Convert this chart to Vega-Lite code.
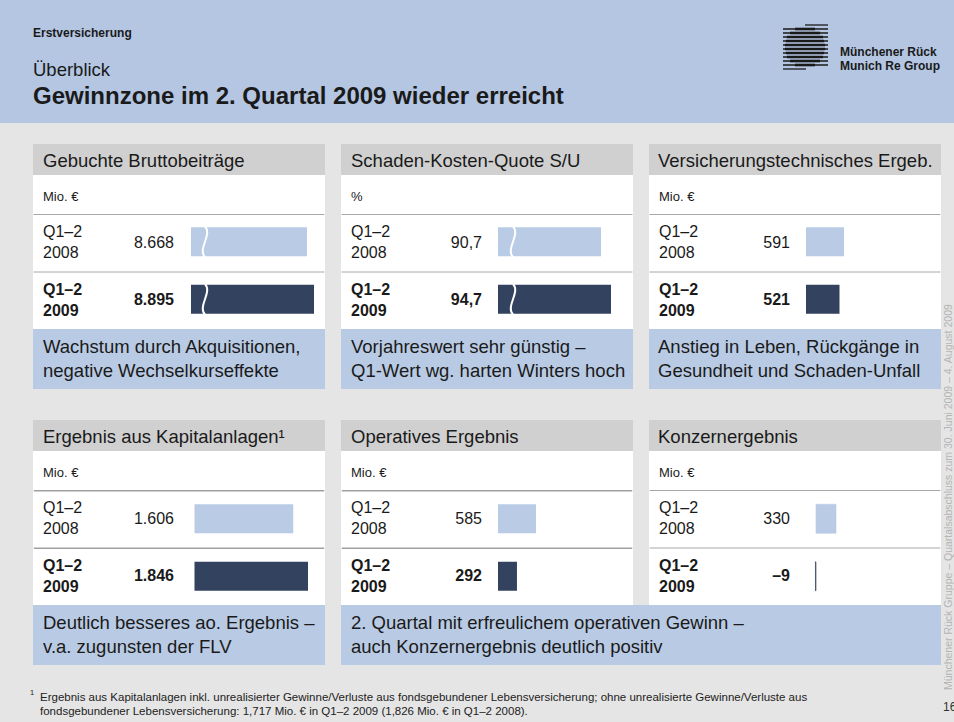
{
"$schema": "https://vega.github.io/schema/vega-lite/v6.json",
"background": "#e5e5e5",
"padding": 0,
"spacing": 0,
"config": {"view": {"stroke": null}, "font": "Liberation Sans", "axis": {"disable": true}, "legend": {"disable": true}},
"vconcat": [
{"hconcat": [
 {"width": 783, "height": 123, "view": {"fill": "#b4c6e2"},
  "layer": [
   {"data": {"values": [{"t": "Erstversicherung"}]}, "mark": {"type": "text", "align": "left", "baseline": "middle", "fontSize": 12, "fontWeight": "bold", "color": "#1a1a1a"}, "encoding": {"text": {"field": "t"}, "x": {"value": 33}, "y": {"value": 33}}},
   {"data": {"values": [{"t": "Überblick"}]}, "mark": {"type": "text", "align": "left", "baseline": "middle", "fontSize": 18.5, "color": "#1a1a1a"}, "encoding": {"text": {"field": "t"}, "x": {"value": 33}, "y": {"value": 70}}},
   {"data": {"values": [{"t": "Gewinnzone im 2. Quartal 2009 wieder erreicht"}]}, "mark": {"type": "text", "align": "left", "baseline": "middle", "fontSize": 24, "fontWeight": "bold", "color": "#1a1a1a"}, "encoding": {"text": {"field": "t"}, "x": {"value": 33}, "y": {"value": 97}}}
  ]},
 {"width": 46, "height": 123, "view": {"fill": "#b4c6e2"},
  "layer": [
   {"data": {"values": [{"i": 0, "a": 22, "b": 45}, {"i": 1, "a": 0, "b": 45}, {"i": 2, "a": 0, "b": 45}, {"i": 3, "a": 0, "b": 45}, {"i": 4, "a": 0, "b": 45}, {"i": 5, "a": 0, "b": 45}, {"i": 6, "a": 0, "b": 45}, {"i": 7, "a": 0, "b": 45}, {"i": 8, "a": 0, "b": 45}, {"i": 9, "a": 0, "b": 45}, {"i": 10, "a": 0, "b": 45}, {"i": 11, "a": 0, "b": 23}]},
    "mark": {"type": "rule", "color": "#1a1a1a", "strokeWidth": 1.3},
    "encoding": {"x": {"field": "a", "type": "quantitative", "scale": {"domain": [0, 46], "nice": false}}, "x2": {"field": "b"}, "y": {"field": "i", "type": "quantitative", "scale": {"domain": [0, 11], "range": [25, 69], "nice": false}}}},
   {"data": {"values": [{"i": 1, "a": 12, "b": 32}, {"i": 2, "a": 7, "b": 37}, {"i": 3, "a": 4, "b": 40}, {"i": 4, "a": 3, "b": 41}, {"i": 5, "a": 2, "b": 42}, {"i": 6, "a": 2, "b": 42}, {"i": 7, "a": 3, "b": 41}, {"i": 8, "a": 4, "b": 40}, {"i": 9, "a": 7, "b": 37}, {"i": 10, "a": 12, "b": 32}]},
    "mark": {"type": "rule", "color": "#1a1a1a", "strokeWidth": 2.6},
    "encoding": {"x": {"field": "a", "type": "quantitative", "scale": {"domain": [0, 46], "nice": false}}, "x2": {"field": "b"}, "y": {"field": "i", "type": "quantitative", "scale": {"domain": [0, 11], "range": [25, 69], "nice": false}}}}
  ]},
 {"width": 125, "height": 123, "view": {"fill": "#b4c6e2"},
  "data": {"values": [{"t": "Münchener Rück\nMunich Re Group"}]},
  "mark": {"type": "text", "align": "left", "baseline": "middle", "fontSize": 12, "fontWeight": "bold", "lineBreak": "\n", "lineHeight": 14, "color": "#1a1a1a"},
  "encoding": {"text": {"field": "t"}, "x": {"value": 11}, "y": {"value": 52}}}
], "spacing": 0, "bounds": "flush"},
{"hconcat": [
 {"vconcat": [
  {"width": 10, "height": 21, "data": {"values": [{}]}, "mark": {"type": "point", "opacity": 0}, "encoding": {}},
  {"hconcat": [
   {"width": 17, "height": 10, "data": {"values": [{}]}, "mark": {"type": "point", "opacity": 0}, "encoding": {}},
   {"vconcat": [
    {"width": 292, "height": 31, "view": {"fill": "#d0d0d0"}, "data": {"values": [{"t": "Gebuchte Bruttobeiträge"}]}, "mark": {"type": "text", "align": "left", "baseline": "middle", "fontSize": 18.5, "color": "#1a1a1a"}, "encoding": {"text": {"field": "t"}, "x": {"value": 10}, "y": {"value": 17}}},
    {"width": 292, "height": 39, "view": {"fill": "#ffffff"}, "data": {"values": [{"t": "Mio. €"}]}, "mark": {"type": "text", "align": "left", "baseline": "middle", "fontSize": 13, "color": "#1a1a1a"}, "encoding": {"text": {"field": "t"}, "x": {"value": 10}, "y": {"value": 21.5}}},
    {"width": 292, "height": 115, "view": {"fill": "#ffffff"},
     "data": {"values": [{"row": "2008", "period": "Q1–2\n2008", "value": 8668, "label": "8.668"}, {"row": "2009", "period": "Q1–2\n2009", "value": 8895, "label": "8.895"}]},
     "encoding": {"y": {"field": "row", "type": "nominal", "scale": {"domain": ["2008", "2009"], "paddingInner": 0, "paddingOuter": 0}}},
     "layer": [
      {"mark": {"type": "rule", "color": "#a8a8a8", "strokeWidth": 1, "yOffset": 0.5}, "encoding": {"y": {"field": "row", "type": "nominal", "bandPosition": 0}, "x": {"value": 0.6}, "x2": {"value": 291.4}}},
      {"mark": {"type": "bar", "size": 29, "yOffset": -1}, "encoding": {"x": {"field": "value", "type": "quantitative", "scale": {"domain": [4900, 8895], "range": [158, 281], "nice": false, "zero": false}}, "x2": {"datum": 4900}, "color": {"field": "row", "type": "nominal", "scale": {"domain": ["2008", "2009"], "range": ["#b9cbe5", "#33425f"]}}}},
      {"mark": {"type": "point", "shape": "M0,-1C0.5,-0.4 -0.5,0.4 0,1", "size": 961, "filled": false, "color": "#ffffff", "strokeWidth": 2, "opacity": 1, "yOffset": -1}, "encoding": {"x": {"datum": 5354}}},
      {"transform": [{"filter": "datum.row === '2008'"}], "mark": {"type": "text", "align": "left", "baseline": "middle", "fontSize": 16, "lineBreak": "\n", "lineHeight": 21, "dy": -10.5, "color": "#1a1a1a"}, "encoding": {"x": {"value": 10}, "text": {"field": "period"}}},
      {"transform": [{"filter": "datum.row === '2009'"}], "mark": {"type": "text", "align": "left", "baseline": "middle", "fontSize": 16, "fontWeight": "bold", "lineBreak": "\n", "lineHeight": 21, "dy": -10.5, "color": "#1a1a1a"}, "encoding": {"x": {"value": 10}, "text": {"field": "period"}}},
      {"transform": [{"filter": "datum.row === '2008'"}], "mark": {"type": "text", "align": "right", "baseline": "middle", "fontSize": 16, "color": "#1a1a1a"}, "encoding": {"x": {"value": 141}, "text": {"field": "label"}}},
      {"transform": [{"filter": "datum.row === '2009'"}], "mark": {"type": "text", "align": "right", "baseline": "middle", "fontSize": 16, "fontWeight": "bold", "color": "#1a1a1a"}, "encoding": {"x": {"value": 141}, "text": {"field": "label"}}}
     ]},
    {"width": 292, "height": 60, "view": {"fill": "#b9cbe4"}, "data": {"values": [{"t": "Wachstum durch Akquisitionen,\nnegative Wechselkurseffekte"}]}, "mark": {"type": "text", "align": "left", "baseline": "middle", "fontSize": 18.5, "lineBreak": "\n", "lineHeight": 24, "color": "#1a1a1a"}, "encoding": {"text": {"field": "t"}, "x": {"value": 10}, "y": {"value": 18}}}
   ], "spacing": 0, "bounds": "flush"},
   {"vconcat": [
    {"width": 292, "height": 31, "view": {"fill": "#d0d0d0"}, "data": {"values": [{"t": "Schaden-Kosten-Quote S/U"}]}, "mark": {"type": "text", "align": "left", "baseline": "middle", "fontSize": 18.5, "color": "#1a1a1a"}, "encoding": {"text": {"field": "t"}, "x": {"value": 10}, "y": {"value": 17}}},
    {"width": 292, "height": 39, "view": {"fill": "#ffffff"}, "data": {"values": [{"t": "%"}]}, "mark": {"type": "text", "align": "left", "baseline": "middle", "fontSize": 13, "color": "#1a1a1a"}, "encoding": {"text": {"field": "t"}, "x": {"value": 10}, "y": {"value": 21.5}}},
    {"width": 292, "height": 115, "view": {"fill": "#ffffff"},
     "data": {"values": [{"row": "2008", "period": "Q1–2\n2008", "value": 90.7, "label": "90,7"}, {"row": "2009", "period": "Q1–2\n2009", "value": 94.7, "label": "94,7"}]},
     "encoding": {"y": {"field": "row", "type": "nominal", "scale": {"domain": ["2008", "2009"], "paddingInner": 0, "paddingOuter": 0}}},
     "layer": [
      {"mark": {"type": "rule", "color": "#a8a8a8", "strokeWidth": 1, "yOffset": 0.5}, "encoding": {"y": {"field": "row", "type": "nominal", "bandPosition": 0}, "x": {"value": 0.6}, "x2": {"value": 291.4}}},
      {"mark": {"type": "bar", "size": 29, "yOffset": -1}, "encoding": {"x": {"field": "value", "type": "quantitative", "scale": {"domain": [49.5, 94.7], "range": [157, 270], "nice": false, "zero": false}}, "x2": {"datum": 49.5}, "color": {"field": "row", "type": "nominal", "scale": {"domain": ["2008", "2009"], "range": ["#b9cbe5", "#33425f"]}}}},
      {"mark": {"type": "point", "shape": "M0,-1C0.5,-0.4 -0.5,0.4 0,1", "size": 961, "filled": false, "color": "#ffffff", "strokeWidth": 2, "opacity": 1, "yOffset": -1}, "encoding": {"x": {"datum": 55.5}}},
      {"transform": [{"filter": "datum.row === '2008'"}], "mark": {"type": "text", "align": "left", "baseline": "middle", "fontSize": 16, "lineBreak": "\n", "lineHeight": 21, "dy": -10.5, "color": "#1a1a1a"}, "encoding": {"x": {"value": 10}, "text": {"field": "period"}}},
      {"transform": [{"filter": "datum.row === '2009'"}], "mark": {"type": "text", "align": "left", "baseline": "middle", "fontSize": 16, "fontWeight": "bold", "lineBreak": "\n", "lineHeight": 21, "dy": -10.5, "color": "#1a1a1a"}, "encoding": {"x": {"value": 10}, "text": {"field": "period"}}},
      {"transform": [{"filter": "datum.row === '2008'"}], "mark": {"type": "text", "align": "right", "baseline": "middle", "fontSize": 16, "color": "#1a1a1a"}, "encoding": {"x": {"value": 141}, "text": {"field": "label"}}},
      {"transform": [{"filter": "datum.row === '2009'"}], "mark": {"type": "text", "align": "right", "baseline": "middle", "fontSize": 16, "fontWeight": "bold", "color": "#1a1a1a"}, "encoding": {"x": {"value": 141}, "text": {"field": "label"}}}
     ]},
    {"width": 292, "height": 60, "view": {"fill": "#b9cbe4"}, "data": {"values": [{"t": "Vorjahreswert sehr günstig –\nQ1-Wert wg. harten Winters hoch"}]}, "mark": {"type": "text", "align": "left", "baseline": "middle", "fontSize": 18.5, "lineBreak": "\n", "lineHeight": 24, "color": "#1a1a1a"}, "encoding": {"text": {"field": "t"}, "x": {"value": 10}, "y": {"value": 18}}}
   ], "spacing": 0, "bounds": "flush"},
   {"vconcat": [
    {"width": 292, "height": 31, "view": {"fill": "#d0d0d0"}, "data": {"values": [{"t": "Versicherungstechnisches Ergeb."}]}, "mark": {"type": "text", "align": "left", "baseline": "middle", "fontSize": 18.5, "color": "#1a1a1a"}, "encoding": {"text": {"field": "t"}, "x": {"value": 9}, "y": {"value": 17}}},
    {"width": 292, "height": 39, "view": {"fill": "#ffffff"}, "data": {"values": [{"t": "Mio. €"}]}, "mark": {"type": "text", "align": "left", "baseline": "middle", "fontSize": 13, "color": "#1a1a1a"}, "encoding": {"text": {"field": "t"}, "x": {"value": 10}, "y": {"value": 21.5}}},
    {"width": 292, "height": 115, "view": {"fill": "#ffffff"},
     "data": {"values": [{"row": "2008", "period": "Q1–2\n2008", "value": 591, "label": "591"}, {"row": "2009", "period": "Q1–2\n2009", "value": 521, "label": "521"}]},
     "encoding": {"y": {"field": "row", "type": "nominal", "scale": {"domain": ["2008", "2009"], "paddingInner": 0, "paddingOuter": 0}}},
     "layer": [
      {"mark": {"type": "rule", "color": "#a8a8a8", "strokeWidth": 1, "yOffset": 0.5}, "encoding": {"y": {"field": "row", "type": "nominal", "bandPosition": 0}, "x": {"value": 0.6}, "x2": {"value": 291.4}}},
      {"mark": {"type": "bar", "size": 29, "yOffset": -1}, "encoding": {"x": {"field": "value", "type": "quantitative", "scale": {"domain": [0, 591], "range": [157, 195], "nice": false}}, "color": {"field": "row", "type": "nominal", "scale": {"domain": ["2008", "2009"], "range": ["#b9cbe5", "#33425f"]}}}},
      {"transform": [{"filter": "datum.row === '2008'"}], "mark": {"type": "text", "align": "left", "baseline": "middle", "fontSize": 16, "lineBreak": "\n", "lineHeight": 21, "dy": -10.5, "color": "#1a1a1a"}, "encoding": {"x": {"value": 10}, "text": {"field": "period"}}},
      {"transform": [{"filter": "datum.row === '2009'"}], "mark": {"type": "text", "align": "left", "baseline": "middle", "fontSize": 16, "fontWeight": "bold", "lineBreak": "\n", "lineHeight": 21, "dy": -10.5, "color": "#1a1a1a"}, "encoding": {"x": {"value": 10}, "text": {"field": "period"}}},
      {"transform": [{"filter": "datum.row === '2008'"}], "mark": {"type": "text", "align": "right", "baseline": "middle", "fontSize": 16, "color": "#1a1a1a"}, "encoding": {"x": {"value": 141}, "text": {"field": "label"}}},
      {"transform": [{"filter": "datum.row === '2009'"}], "mark": {"type": "text", "align": "right", "baseline": "middle", "fontSize": 16, "fontWeight": "bold", "color": "#1a1a1a"}, "encoding": {"x": {"value": 141}, "text": {"field": "label"}}}
     ]},
    {"width": 292, "height": 60, "view": {"fill": "#b9cbe4"}, "data": {"values": [{"t": "Anstieg in Leben, Rückgänge in\nGesundheit und Schaden-Unfall"}]}, "mark": {"type": "text", "align": "left", "baseline": "middle", "fontSize": 18.5, "lineBreak": "\n", "lineHeight": 24, "color": "#1a1a1a"}, "encoding": {"text": {"field": "t"}, "x": {"value": 9}, "y": {"value": 18}}}
   ], "spacing": 0, "bounds": "flush"}
  ], "spacing": 16},
  {"width": 10, "height": 31, "data": {"values": [{}]}, "mark": {"type": "point", "opacity": 0}, "encoding": {}},
  {"hconcat": [
   {"width": 17, "height": 10, "data": {"values": [{}]}, "mark": {"type": "point", "opacity": 0}, "encoding": {}},
   {"vconcat": [
    {"width": 292, "height": 31, "view": {"fill": "#d0d0d0"}, "data": {"values": [{"t": "Ergebnis aus Kapitalanlagen¹"}]}, "mark": {"type": "text", "align": "left", "baseline": "middle", "fontSize": 18.5, "color": "#1a1a1a"}, "encoding": {"text": {"field": "t"}, "x": {"value": 10}, "y": {"value": 17}}},
    {"width": 292, "height": 39, "view": {"fill": "#ffffff"}, "data": {"values": [{"t": "Mio. €"}]}, "mark": {"type": "text", "align": "left", "baseline": "middle", "fontSize": 13, "color": "#1a1a1a"}, "encoding": {"text": {"field": "t"}, "x": {"value": 10}, "y": {"value": 21.5}}},
    {"width": 292, "height": 115, "view": {"fill": "#ffffff"},
     "data": {"values": [{"row": "2008", "period": "Q1–2\n2008", "value": 1606, "label": "1.606"}, {"row": "2009", "period": "Q1–2\n2009", "value": 1846, "label": "1.846"}]},
     "encoding": {"y": {"field": "row", "type": "nominal", "scale": {"domain": ["2008", "2009"], "paddingInner": 0, "paddingOuter": 0}}},
     "layer": [
      {"mark": {"type": "rule", "color": "#a0a0a0", "strokeWidth": 1.6, "yOffset": 0.8}, "encoding": {"y": {"field": "row", "type": "nominal", "bandPosition": 0}, "x": {"value": 0.8}, "x2": {"value": 291.2}}},
      {"mark": {"type": "bar", "size": 29}, "encoding": {"x": {"field": "value", "type": "quantitative", "scale": {"domain": [0, 1846], "range": [161.5, 275], "nice": false}}, "color": {"field": "row", "type": "nominal", "scale": {"domain": ["2008", "2009"], "range": ["#b9cbe5", "#33425f"]}}}},
      {"transform": [{"filter": "datum.row === '2008'"}], "mark": {"type": "text", "align": "left", "baseline": "middle", "fontSize": 16, "lineBreak": "\n", "lineHeight": 21, "dy": -10.5, "color": "#1a1a1a"}, "encoding": {"x": {"value": 10}, "text": {"field": "period"}}},
      {"transform": [{"filter": "datum.row === '2009'"}], "mark": {"type": "text", "align": "left", "baseline": "middle", "fontSize": 16, "fontWeight": "bold", "lineBreak": "\n", "lineHeight": 21, "dy": -10.5, "color": "#1a1a1a"}, "encoding": {"x": {"value": 10}, "text": {"field": "period"}}},
      {"transform": [{"filter": "datum.row === '2008'"}], "mark": {"type": "text", "align": "right", "baseline": "middle", "fontSize": 16, "color": "#1a1a1a"}, "encoding": {"x": {"value": 141}, "text": {"field": "label"}}},
      {"transform": [{"filter": "datum.row === '2009'"}], "mark": {"type": "text", "align": "right", "baseline": "middle", "fontSize": 16, "fontWeight": "bold", "color": "#1a1a1a"}, "encoding": {"x": {"value": 141}, "text": {"field": "label"}}}
     ]},
    {"width": 292, "height": 60, "view": {"fill": "#b9cbe4"}, "data": {"values": [{"t": "Deutlich besseres ao. Ergebnis –\nv.a. zugunsten der FLV"}]}, "mark": {"type": "text", "align": "left", "baseline": "middle", "fontSize": 18.5, "lineBreak": "\n", "lineHeight": 23.5, "color": "#1a1a1a"}, "encoding": {"text": {"field": "t"}, "x": {"value": 10}, "y": {"value": 18.25}}}
   ], "spacing": 0, "bounds": "flush"},
   {"vconcat": [
    {"hconcat": [
     {"vconcat": [
      {"width": 292, "height": 31, "view": {"fill": "#d0d0d0"}, "data": {"values": [{"t": "Operatives Ergebnis"}]}, "mark": {"type": "text", "align": "left", "baseline": "middle", "fontSize": 18.5, "color": "#1a1a1a"}, "encoding": {"text": {"field": "t"}, "x": {"value": 10}, "y": {"value": 17}}},
      {"width": 292, "height": 39, "view": {"fill": "#ffffff"}, "data": {"values": [{"t": "Mio. €"}]}, "mark": {"type": "text", "align": "left", "baseline": "middle", "fontSize": 13, "color": "#1a1a1a"}, "encoding": {"text": {"field": "t"}, "x": {"value": 10}, "y": {"value": 21.5}}},
      {"width": 292, "height": 115, "view": {"fill": "#ffffff"},
       "data": {"values": [{"row": "2008", "period": "Q1–2\n2008", "value": 585, "label": "585"}, {"row": "2009", "period": "Q1–2\n2009", "value": 292, "label": "292"}]},
       "encoding": {"y": {"field": "row", "type": "nominal", "scale": {"domain": ["2008", "2009"], "paddingInner": 0, "paddingOuter": 0}}},
       "layer": [
        {"mark": {"type": "rule", "color": "#a0a0a0", "strokeWidth": 1.6, "yOffset": 0.8}, "encoding": {"y": {"field": "row", "type": "nominal", "bandPosition": 0}, "x": {"value": 0.8}, "x2": {"value": 291.2}}},
        {"mark": {"type": "bar", "size": 29}, "encoding": {"x": {"field": "value", "type": "quantitative", "scale": {"domain": [0, 585], "range": [157, 195], "nice": false}}, "color": {"field": "row", "type": "nominal", "scale": {"domain": ["2008", "2009"], "range": ["#b9cbe5", "#33425f"]}}}},
        {"transform": [{"filter": "datum.row === '2008'"}], "mark": {"type": "text", "align": "left", "baseline": "middle", "fontSize": 16, "lineBreak": "\n", "lineHeight": 21, "dy": -10.5, "color": "#1a1a1a"}, "encoding": {"x": {"value": 10}, "text": {"field": "period"}}},
        {"transform": [{"filter": "datum.row === '2009'"}], "mark": {"type": "text", "align": "left", "baseline": "middle", "fontSize": 16, "fontWeight": "bold", "lineBreak": "\n", "lineHeight": 21, "dy": -10.5, "color": "#1a1a1a"}, "encoding": {"x": {"value": 10}, "text": {"field": "period"}}},
        {"transform": [{"filter": "datum.row === '2008'"}], "mark": {"type": "text", "align": "right", "baseline": "middle", "fontSize": 16, "color": "#1a1a1a"}, "encoding": {"x": {"value": 141}, "text": {"field": "label"}}},
        {"transform": [{"filter": "datum.row === '2009'"}], "mark": {"type": "text", "align": "right", "baseline": "middle", "fontSize": 16, "fontWeight": "bold", "color": "#1a1a1a"}, "encoding": {"x": {"value": 141}, "text": {"field": "label"}}}
       ]}
     ], "spacing": 0, "bounds": "flush"},
     {"vconcat": [
      {"width": 292, "height": 31, "view": {"fill": "#d0d0d0"}, "data": {"values": [{"t": "Konzernergebnis"}]}, "mark": {"type": "text", "align": "left", "baseline": "middle", "fontSize": 18.5, "color": "#1a1a1a"}, "encoding": {"text": {"field": "t"}, "x": {"value": 9}, "y": {"value": 17}}},
      {"width": 292, "height": 39, "view": {"fill": "#ffffff"}, "data": {"values": [{"t": "Mio. €"}]}, "mark": {"type": "text", "align": "left", "baseline": "middle", "fontSize": 13, "color": "#1a1a1a"}, "encoding": {"text": {"field": "t"}, "x": {"value": 10}, "y": {"value": 21.5}}},
      {"width": 292, "height": 115, "view": {"fill": "#ffffff"},
       "data": {"values": [{"row": "2008", "period": "Q1–2\n2008", "value": 330, "label": "330"}, {"row": "2009", "period": "Q1–2\n2009", "value": -9, "label": "–9"}]},
       "encoding": {"y": {"field": "row", "type": "nominal", "scale": {"domain": ["2008", "2009"], "paddingInner": 0, "paddingOuter": 0}}},
       "layer": [
        {"mark": {"type": "rule", "color": "#a8a8a8", "strokeWidth": 1, "yOffset": 0.5}, "encoding": {"y": {"field": "row", "type": "nominal", "bandPosition": 0}, "x": {"value": 0.6}, "x2": {"value": 291.4}}},
        {"mark": {"type": "bar", "size": 29, "strokeWidth": 0.6}, "encoding": {"x": {"field": "value", "type": "quantitative", "scale": {"domain": [0, 330], "range": [167, 187], "nice": false}}, "color": {"field": "row", "type": "nominal", "scale": {"domain": ["2008", "2009"], "range": ["#b9cbe5", "#33425f"]}}, "stroke": {"field": "row", "type": "nominal", "scale": {"domain": ["2008", "2009"], "range": ["#b9cbe5", "#33425f"]}}}},
        {"transform": [{"filter": "datum.row === '2008'"}], "mark": {"type": "text", "align": "left", "baseline": "middle", "fontSize": 16, "lineBreak": "\n", "lineHeight": 21, "dy": -10.5, "color": "#1a1a1a"}, "encoding": {"x": {"value": 10}, "text": {"field": "period"}}},
        {"transform": [{"filter": "datum.row === '2009'"}], "mark": {"type": "text", "align": "left", "baseline": "middle", "fontSize": 16, "fontWeight": "bold", "lineBreak": "\n", "lineHeight": 21, "dy": -10.5, "color": "#1a1a1a"}, "encoding": {"x": {"value": 10}, "text": {"field": "period"}}},
        {"transform": [{"filter": "datum.row === '2008'"}], "mark": {"type": "text", "align": "right", "baseline": "middle", "fontSize": 16, "color": "#1a1a1a"}, "encoding": {"x": {"value": 141}, "text": {"field": "label"}}},
        {"transform": [{"filter": "datum.row === '2009'"}], "mark": {"type": "text", "align": "right", "baseline": "middle", "fontSize": 16, "fontWeight": "bold", "color": "#1a1a1a"}, "encoding": {"x": {"value": 141}, "text": {"field": "label"}}}
       ]}
     ], "spacing": 0, "bounds": "flush"}
    ], "spacing": 16},
    {"width": 600, "height": 60, "view": {"fill": "#b9cbe4"}, "data": {"values": [{"t": "2. Quartal mit erfreulichem operativen Gewinn –\nauch Konzernergebnis deutlich positiv"}]}, "mark": {"type": "text", "align": "left", "baseline": "middle", "fontSize": 18.5, "lineBreak": "\n", "lineHeight": 23.5, "color": "#1a1a1a"}, "encoding": {"text": {"field": "t"}, "x": {"value": 10}, "y": {"value": 18.25}}}
   ], "spacing": 0}
  ], "spacing": 16},
  {"width": 941, "height": 57,
   "layer": [
    {"data": {"values": [{"t": "1"}]}, "mark": {"type": "text", "align": "left", "baseline": "middle", "fontSize": 7.5, "color": "#222222"}, "encoding": {"text": {"field": "t"}, "x": {"value": 30}, "y": {"value": 28}}},
    {"data": {"values": [{"t": "Ergebnis aus Kapitalanlagen inkl. unrealisierter Gewinne/Verluste aus fondsgebundener Lebensversicherung; ohne unrealisierte Gewinne/Verluste aus\nfondsgebundener Lebensversicherung:  1,717 Mio. € in Q1–2 2009 (1,826 Mio. € in Q1–2 2008)."}]}, "mark": {"type": "text", "align": "left", "baseline": "middle", "fontSize": 11.5, "lineBreak": "\n", "lineHeight": 14, "color": "#222222"}, "encoding": {"text": {"field": "t"}, "x": {"value": 40}, "y": {"value": 33}}}
   ]}
 ], "spacing": 0},
 {"width": 13, "height": 599,
  "layer": [
   {"data": {"values": [{"t": "16"}]}, "mark": {"type": "text", "align": "left", "baseline": "middle", "fontSize": 12, "color": "#333333"}, "encoding": {"text": {"field": "t"}, "x": {"value": 2}, "y": {"value": 584}}},
   {"data": {"values": [{"t": "Münchener Rück Gruppe – Quartalsabschluss zum 30. Juni 2009 – 4. August 2009"}]}, "mark": {"type": "text", "align": "left", "baseline": "middle", "angle": 270, "fontSize": 10.5, "color": "#b4b4b4"}, "encoding": {"text": {"field": "t"}, "x": {"value": 8}, "y": {"value": 567}}}
  ]}
], "spacing": 0}
]
}
